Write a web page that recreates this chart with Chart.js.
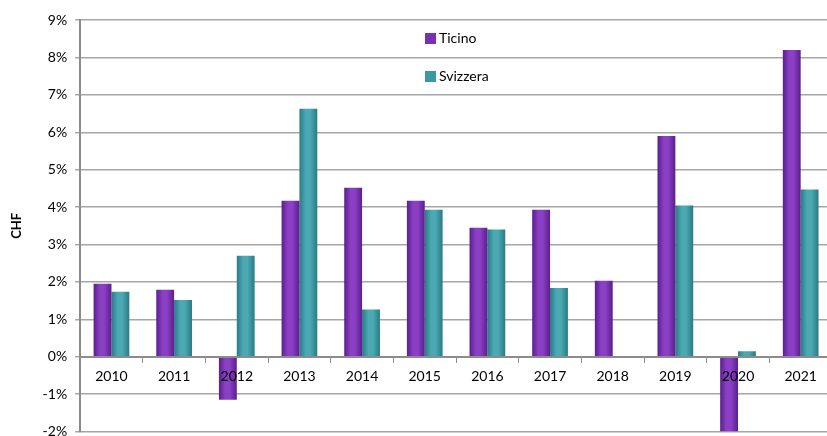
<!DOCTYPE html>
<html>
<head>
<meta charset="utf-8">
<script src="https://cdn.jsdelivr.net/npm/chart.js@4.4.1/dist/chart.umd.min.js"></script>
<style>
  html, body { margin: 0; padding: 0; background: #fff; overflow: hidden; }
  #wrap { width: 832px; height: 448px; }
</style>
</head>
<body>
<div id="wrap"><canvas id="myChart"></canvas></div>
<script>
const years = ['2010', '2011', '2012', '2013', '2014', '2015', '2016', '2017', '2018', '2019', '2020', '2021'];
const ticino = [1.95, 1.79, -1.15, 4.17, 4.52, 4.17, 3.45, 3.93, 2.03, 5.9, -2.0, 8.2];
const svizzera = [1.74, 1.52, 2.7, 6.63, 1.26, 3.93, 3.4, 1.84, 0, 4.04, 0.15, 4.47];
const seriesNames = ['Ticino', 'Svizzera'];

const FONT = 'Lato, "Noto Sans", sans-serif';
const catPct = 0.57;

// cylinder-like shading across each bar
function barFill(edge, mid, side) {
  return function (ctx) {
    const chart = ctx.chart;
    const xs = chart.scales.x;
    if (!chart.chartArea || !xs || ctx.type !== 'data') return mid;
    const cw = (xs.right - xs.left) / years.length;
    const bw = cw * catPct / 2;
    const cx = xs.getPixelForValue(ctx.dataIndex) + side * bw / 2;
    const g = chart.ctx.createLinearGradient(cx - bw / 2, 0, cx + bw / 2, 0);
    g.addColorStop(0, edge);
    g.addColorStop(0.35, mid);
    g.addColorStop(0.6, mid);
    g.addColorStop(1, edge);
    return g;
  };
}

const colors = [
  { edge: '#5a1f8c', mid: '#8a3fc4', box: '#7a30b0' },
  { edge: '#2a7a84', mid: '#4aa9b3', box: '#3a98a2' }
];

const legendInside = {
  id: 'legendInside',
  afterDraw(chart) {
    const c = chart.ctx;
    const items = [{ x: 425, y: 38 }, { x: 425, y: 76 }];
    c.save();
    c.font = '14px ' + FONT;
    c.textBaseline = 'middle';
    chart.data.datasets.forEach((ds, i) => {
      const p = items[i];
      c.fillStyle = colors[i].box;
      c.fillRect(p.x, p.y - 5, 11, 11);
      c.fillStyle = '#000';
      c.fillText(ds.label, p.x + 14, p.y);
    });
    c.restore();
  }
};

new Chart(document.getElementById('myChart'), {
  type: 'bar',
  data: {
    labels: years,
    datasets: [
      {
        label: seriesNames[0],
        data: ticino,
        backgroundColor: barFill(colors[0].edge, colors[0].mid, -1),
        borderWidth: 0
      },
      {
        label: seriesNames[1],
        data: svizzera,
        backgroundColor: barFill(colors[1].edge, colors[1].mid, 1),
        borderWidth: 0
      }
    ]
  },
  options: {
    responsive: true,
    maintainAspectRatio: false,
    animation: false,
    devicePixelRatio: 1,
    layout: { padding: { top: 20, left: 9, right: 0, bottom: 0 } },
    datasets: { bar: { categoryPercentage: catPct, barPercentage: 1.0 } },
    plugins: {
      legend: { display: false },
      tooltip: { enabled: false }
    },
    scales: {
      x: {
        position: { y: 0 },
        grid: {
          drawOnChartArea: false,
          drawTicks: true,
          tickLength: 5,
          color: '#8c8c8c',
          offset: true
        },
        border: { color: '#8c8c8c', width: 2, z: 1 },
        ticks: {
          z: 1,
          color: '#000',
          font: { family: FONT, size: 14 },
          padding: 6,
          maxRotation: 0
        }
      },
      y: {
        min: -2,
        max: 9,
        grid: {
          color: '#a6a6a6',
          lineWidth: 1.5,
          tickLength: 5
        },
        border: { color: '#8c8c8c', width: 2 },
        ticks: {
          stepSize: 1,
          color: '#000',
          font: { family: FONT, size: 14 },
          padding: 8,
          callback: v => v + '%'
        },
        title: {
          display: true,
          text: 'CHF',
          color: '#000',
          font: { family: FONT, size: 13, weight: 'bold' },
          padding: { top: 0, bottom: 10 }
        }
      }
    }
  },
  plugins: [legendInside]
});
</script>
</body>
</html>
